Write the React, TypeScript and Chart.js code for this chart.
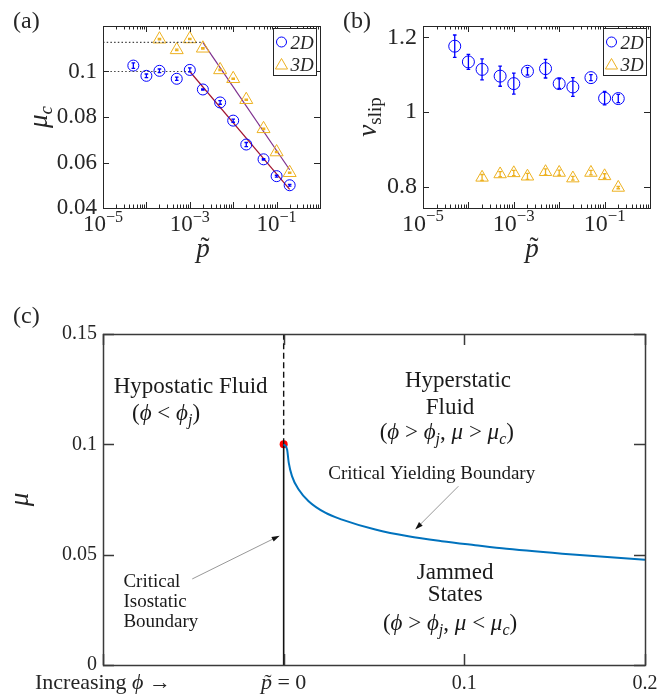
import React, { useEffect, useRef } from 'react';
import { Chart, registerables } from 'chart.js';
Chart.register(...registerables);

// ---------------- data ----------------
// panel (a) / (b): pressure values
const P_2D = [5e-5, 1e-4, 2e-4, 5e-4, 1e-3, 2e-3, 5e-3, 1e-2, 2e-2, 5e-2, 1e-1, 2e-1];
const P_3D = [2e-4, 5e-4, 1e-3, 2e-3, 5e-3, 1e-2, 2e-2, 5e-2, 1e-1, 2e-1];

// panel (a): critical friction
const MU_C_2D = [0.1026, 0.0981, 0.1003, 0.0968, 0.1007, 0.0921, 0.0864, 0.0784, 0.0679, 0.0614, 0.054, 0.05];
const MU_C_2D_ERR = [0.0012, 0.0008, 0.0008, 0.0007, 0.0009, 0.0003, 0.0008, 0.0007, 0.0009, 0.0003, 0.0004, 0.0004];
const MU_C_3D = [0.1142, 0.1095, 0.1143, 0.1102, 0.1007, 0.0968, 0.0876, 0.0748, 0.0646, 0.0555];
const MU_C_3D_ERR = [0.0003, 0.0003, 0.0003, 0.0003, 0.0003, 0.0003, 0.0003, 0.0003, 0.0003, 0.0003];
const PLATEAU_2D_P = [1e-5, 1e-3];
const PLATEAU_2D_MU = [0.1, 0.1];
const PLATEAU_3D_P = [1e-5, 2e-3];
const PLATEAU_3D_MU = [0.1128, 0.1128];
const FIT_2D_P = [1e-3, 2e-1];
const FIT_2D_MU = [0.1, 0.0482];
const FIT_3D_P = [2e-3, 2e-1];
const FIT_3D_MU = [0.1128, 0.0568];

// panel (b): slip exponent
const NU_SLIP_2D = [1.176, 1.134, 1.114, 1.096, 1.076, 1.109, 1.116, 1.076, 1.067, 1.092, 1.037, 1.036];
const NU_SLIP_2D_ERR = [0.03, 0.02, 0.028, 0.027, 0.028, 0.01, 0.025, 0.013, 0.025, 0.008, 0.018, 0.011];
const NU_SLIP_3D = [0.825, 0.834, 0.837, 0.828, 0.84, 0.838, 0.823, 0.838, 0.829, 0.798];
const NU_SLIP_3D_ERR = [0.008, 0.007, 0.007, 0.008, 0.008, 0.007, 0.005, 0.006, 0.006, 0.003];

// panel (c): critical yielding boundary
const PHASE_P = [0, 0.0019, 0.0028, 0.0046, 0.0083, 0.0138, 0.023, 0.0323, 0.0507, 0.069, 0.0875, 0.106, 0.1234, 0.16, 0.2];
const PHASE_MU = [0.1, 0.0977, 0.0917, 0.0856, 0.0795, 0.0742, 0.069, 0.0659, 0.0614, 0.0583, 0.0561, 0.0543, 0.0527, 0.0501, 0.0477];
const ISOSTATIC_P = 0;
const ISOSTATIC_MU_LOW = [0, 0.1];
const ISOSTATIC_MU_HIGH = [0.1, 0.15];

// axes / ticks
const LOG_MIN = 1e-5;
const LOG_MAX = 1;
const LOG_MAJOR = [1e-5, 1e-4, 1e-3, 1e-2, 1e-1, 1];
const LOG_MINOR_MULT = [2, 3, 4, 5, 6, 7, 8, 9];
const LOG_LABELED = [1e-5, 1e-3, 1e-1];
const Y_TICKS_A = [0.04, 0.06, 0.08, 0.1, 0.12];
const Y_LABELS_A = ['0.04', '0.06', '0.08', '0.1', ''];
const Y_TICKS_B = [0.8, 1, 1.2];
const Y_LABELS_B = ['0.8', '1', '1.2'];
const Y_TICKS_C = [0, 0.05, 0.1, 0.15];
const Y_LABELS_C = ['0', '0.05', '0.1', '0.15'];
const X_TICKS_C = [-0.1, 0, 0.1, 0.2];

// ---------------- style ----------------
const SERIF = '"Liberation Serif", "DejaVu Serif", "Times New Roman", serif';
const INK = '#262626';
const BLUE = '#0000FF';
const GOLD = '#EDB120';
const FIT_RED = '#A2142F';
const FIT_PURPLE = '#7E2F8E';
const CURVE_BLUE = '#0072BD';

type Seg = { t: string; s: string };
const R = (t: string): Seg => ({ t, s: 'r' });
const I = (t: string): Seg => ({ t, s: 'i' });
const SUB = (t: string): Seg => ({ t, s: 'sub' });
const SUBR = (t: string): Seg => ({ t, s: 'subr' });
const SUP = (t: string): Seg => ({ t, s: 'sup' });
const PT = (): Seg => ({ t: 'p', s: 'tilde' });

const X_LABELS_C: Seg[][] = [
  [R('Increasing '), I('\u03D5'), R(' \u2192')],
  [PT(), R(' = 0')],
  [R('0.1')],
  [R('0.2')],
];

// annotations of panel (c), in data coordinates
const PHASE_TEXTS: { p: number; mu: number; big: boolean; align: string; segs: Seg[] }[] = [
  { p: -0.0515, mu: 0.1232, big: true, align: 'center', segs: [R('Hypostatic Fluid')] },
  { p: -0.0651, mu: 0.111, big: true, align: 'center', segs: [R('('), I('\u03D5'), R(' < '), I('\u03D5'), SUB('j'), R(')')] },
  { p: 0.0965, mu: 0.1262, big: true, align: 'center', segs: [R('Hyperstatic')] },
  { p: 0.0921, mu: 0.1136, big: true, align: 'center', segs: [R('Fluid')] },
  { p: 0.0903, mu: 0.1023, big: true, align: 'center', segs: [R('('), I('\u03D5'), R(' > '), I('\u03D5'), SUB('j'), R(', '), I('\u03BC'), R(' > '), I('\u03BC'), SUB('c'), R(')')] },
  { p: 0.0247, mu: 0.0843, big: false, align: 'left', segs: [R('Critical Yielding Boundary')] },
  { p: 0.0949, mu: 0.039, big: true, align: 'center', segs: [R('Jammed')] },
  { p: 0.0949, mu: 0.0288, big: true, align: 'center', segs: [R('States')] },
  { p: 0.0921, mu: 0.0159, big: true, align: 'center', segs: [R('('), I('\u03D5'), R(' > '), I('\u03D5'), SUB('j'), R(', '), I('\u03BC'), R(' < '), I('\u03BC'), SUB('c'), R(')')] },
  { p: -0.0887, mu: 0.0353, big: false, align: 'left', segs: [R('Critical')] },
  { p: -0.0887, mu: 0.0262, big: false, align: 'left', segs: [R('Isostatic')] },
  { p: -0.0887, mu: 0.0171, big: false, align: 'left', segs: [R('Boundary')] },
];
const PHASE_ARROWS = [
  { from: [0.0967, 0.081], to: [0.0728, 0.0614] },
  { from: [-0.0506, 0.039], to: [-0.0022, 0.0586] },
];

// ---------------- drawing helpers ----------------
function segFont(s: string, size: number) {
  const small = s === 'sub' || s === 'subr' || s === 'sup';
  const sz = small ? size * 0.7 : size;
  const it = s === 'i' || s === 'sub' || s === 'tilde';
  return `${it ? 'italic ' : ''}${sz}px ${SERIF}`;
}
function richWidth(ctx: CanvasRenderingContext2D, segs: Seg[], size: number) {
  let w = 0;
  for (const g of segs) {
    ctx.font = segFont(g.s, size);
    w += ctx.measureText(g.t).width;
  }
  return w;
}
function drawRich(ctx: CanvasRenderingContext2D, segs: Seg[], x: number, y: number, size: number, align = 'center', color = INK) {
  ctx.save();
  const total = richWidth(ctx, segs, size);
  let cx = x - (align === 'center' ? total / 2 : align === 'right' ? total : 0);
  ctx.fillStyle = color;
  ctx.textBaseline = 'alphabetic';
  for (const g of segs) {
    ctx.font = segFont(g.s, size);
    ctx.textAlign = 'left';
    const w = ctx.measureText(g.t).width;
    let dy = 0;
    if (g.s === 'sub' || g.s === 'subr') dy = size * 0.2;
    if (g.s === 'sup') dy = -size * 0.4;
    ctx.fillText(g.t, cx, y + dy);
    if (g.s === 'tilde') {
      ctx.font = `${size}px ${SERIF}`;
      ctx.textAlign = 'center';
      ctx.fillText('\u02DC', cx + w / 2 + size * 0.07, y - size * 0.02);
    }
    cx += w;
  }
  ctx.restore();
}
function drawRotated(ctx: CanvasRenderingContext2D, segs: Seg[], x: number, y: number, size: number) {
  ctx.save();
  ctx.translate(x, y);
  ctx.rotate(-Math.PI / 2);
  drawRich(ctx, segs, 0, 0, size, 'center');
  ctx.restore();
}
function drawFrame(chart: any, xMajor: number[], xMinor: number[], yMajor: number[], major: number, minor: number, lw: number, color: string) {
  const ctx: CanvasRenderingContext2D = chart.ctx;
  const { left, right, top, bottom } = chart.chartArea;
  const xs = chart.scales.x;
  const ys = chart.scales.y;
  ctx.save();
  ctx.strokeStyle = color;
  ctx.lineWidth = lw;
  ctx.beginPath();
  const vt = (v: number, len: number) => {
    const px = Math.round(xs.getPixelForValue(v)) + 0.5;
    if (px < left - 1 || px > right + 1) return;
    ctx.moveTo(px, bottom);
    ctx.lineTo(px, bottom - len);
    ctx.moveTo(px, top);
    ctx.lineTo(px, top + len);
  };
  xMajor.forEach((v) => vt(v, major));
  xMinor.forEach((v) => vt(v, minor));
  yMajor.forEach((v) => {
    const py = Math.round(ys.getPixelForValue(v)) + 0.5;
    ctx.moveTo(left, py);
    ctx.lineTo(left + major, py);
    ctx.moveTo(right, py);
    ctx.lineTo(right - major, py);
  });
  ctx.stroke();
  ctx.strokeRect(Math.round(left) + 0.5, Math.round(top) + 0.5, Math.round(right - left), Math.round(bottom - top));
  ctx.restore();
}
function drawErrorBars(chart: any) {
  const ctx: CanvasRenderingContext2D = chart.ctx;
  const ys = chart.scales.y;
  chart.data.datasets.forEach((ds: any, i: number) => {
    if (!ds.errorBars) return;
    const meta = chart.getDatasetMeta(i);
    ctx.save();
    ctx.strokeStyle = ds.borderColor;
    ctx.lineWidth = 1.3;
    ctx.beginPath();
    meta.data.forEach((pt: any, j: number) => {
      const v = ds.data[j].y;
      const e = ds.errorBars[j];
      const y1 = ys.getPixelForValue(v + e);
      const y2 = ys.getPixelForValue(v - e);
      const x = pt.x;
      ctx.moveTo(x, y1);
      ctx.lineTo(x, y2);
      ctx.moveTo(x - 1.8, y1);
      ctx.lineTo(x + 1.8, y1);
      ctx.moveTo(x - 1.8, y2);
      ctx.lineTo(x + 1.8, y2);
    });
    ctx.stroke();
    ctx.restore();
  });
}
function drawMarker(ctx: CanvasRenderingContext2D, kind: string, x: number, y: number, r: number, color: string) {
  ctx.save();
  ctx.strokeStyle = color;
  ctx.lineWidth = 1;
  ctx.beginPath();
  if (kind === 'circle') {
    ctx.arc(x, y, r, 0, Math.PI * 2);
  } else {
    let rad = 0;
    ctx.moveTo(x + Math.sin(rad) * r, y - Math.cos(rad) * r);
    rad += (2 * Math.PI) / 3;
    ctx.lineTo(x + Math.sin(rad) * r, y - Math.cos(rad) * r);
    rad += (2 * Math.PI) / 3;
    ctx.lineTo(x + Math.sin(rad) * r, y - Math.cos(rad) * r);
    ctx.closePath();
  }
  ctx.stroke();
  ctx.restore();
}
function drawLegend(chart: any) {
  const ctx: CanvasRenderingContext2D = chart.ctx;
  const { right, top } = chart.chartArea;
  const w = 43;
  const h = 47;
  const x0 = Math.round(right - 4 - w) + 0.5;
  const y0 = Math.round(top + 2) + 0.5;
  ctx.save();
  ctx.fillStyle = '#fff';
  ctx.fillRect(x0, y0, w, h);
  ctx.strokeStyle = INK;
  ctx.lineWidth = 1;
  ctx.strokeRect(x0, y0, w, h);
  ctx.restore();
  const items = chart.data.datasets.filter((d: any) => d.legendLabel);
  items.forEach((d: any, k: number) => {
    const cy = y0 + 13.5 + k * 22.5;
    drawMarker(ctx, d.pointStyle, x0 + 8, cy + (d.pointStyle === 'triangle' ? 1 : 0), d.pointStyle === 'triangle' ? 7 : 5, d.borderColor);
    drawRich(ctx, [I(d.legendLabel)], x0 + 17, cy + 6.5, 19, 'left');
  });
}
function drawLogLabels(chart: any, size: number) {
  const ctx: CanvasRenderingContext2D = chart.ctx;
  const xs = chart.scales.x;
  const base = chart.chartArea.bottom + 23;
  LOG_LABELED.forEach((v) => {
    const e = Math.round(Math.log10(v));
    const segs = [R('10'), SUP(e < 0 ? '\u2212' + Math.abs(e) : String(e))];
    drawRich(ctx, segs, xs.getPixelForValue(v), base, size, 'center');
  });
}
function drawArrow(ctx: CanvasRenderingContext2D, x1: number, y1: number, x2: number, y2: number) {
  const ang = Math.atan2(y2 - y1, x2 - x1);
  const L = 8;
  const W = 2.6;
  ctx.save();
  ctx.strokeStyle = '#8c8c8c';
  ctx.lineWidth = 0.9;
  ctx.beginPath();
  ctx.moveTo(x1, y1);
  ctx.lineTo(x2 - Math.cos(ang) * L * 0.8, y2 - Math.sin(ang) * L * 0.8);
  ctx.stroke();
  ctx.fillStyle = '#111';
  ctx.beginPath();
  ctx.moveTo(x2, y2);
  ctx.lineTo(x2 - Math.cos(ang) * L - Math.sin(ang) * W, y2 - Math.sin(ang) * L + Math.cos(ang) * W);
  ctx.lineTo(x2 - Math.cos(ang) * L + Math.sin(ang) * W, y2 - Math.sin(ang) * L - Math.cos(ang) * W);
  ctx.closePath();
  ctx.fill();
  ctx.restore();
}

// ---------------- config builders ----------------
const LOG_MINOR = LOG_MAJOR.slice(0, -1).flatMap((d) => LOG_MINOR_MULT.map((m) => m * d));

function pts(xs: number[], ys: number[]) {
  return xs.map((x, i) => ({ x, y: ys[i] }));
}
function lineDs(xs: number[], ys: number[], color: string, dash: number[], width: number) {
  return {
    data: pts(xs, ys),
    showLine: true,
    borderColor: color,
    backgroundColor: color,
    borderWidth: width,
    borderDash: dash,
    pointRadius: 0,
    fill: false,
  };
}
function markerDs(xs: number[], ys: number[], err: number[], color: string, style: string, r: number, label: string) {
  return {
    data: pts(xs, ys),
    showLine: false,
    pointStyle: style,
    pointRadius: r,
    borderColor: color,
    backgroundColor: 'rgba(0,0,0,0)',
    pointBorderColor: color,
    pointBackgroundColor: 'rgba(0,0,0,0)',
    pointBorderWidth: 1,
    errorBars: err,
    legendLabel: label,
  };
}
function logAxis(height: number) {
  return {
    type: 'logarithmic',
    min: LOG_MIN,
    max: LOG_MAX,
    grid: { display: false, drawTicks: false },
    border: { display: false },
    ticks: { display: false, autoSkip: false },
    afterFit: (s: any) => {
      s.height = height;
    },
  };
}
function linAxis(min: number, max: number, tickVals: number[], labels: string[], width: number, size: number) {
  return {
    type: 'linear',
    min,
    max,
    grid: { display: false, drawTicks: false },
    border: { display: false },
    afterBuildTicks: (s: any) => {
      s.ticks = tickVals.map((v) => ({ value: v }));
    },
    ticks: {
      autoSkip: false,
      padding: 6,
      color: INK,
      font: { family: SERIF, size },
      callback: (_v: any, i: number) => labels[i],
    },
    afterFit: (s: any) => {
      s.width = width;
    },
  };
}
function baseOptions(padTop: number, padRight: number, scales: any) {
  return {
    animation: false,
    responsive: false,
    devicePixelRatio: 1,
    events: [],
    layout: { padding: { top: padTop, right: padRight, left: 0, bottom: 0 } },
    plugins: { legend: { display: false }, tooltip: { enabled: false }, title: { display: false } },
    scales,
  };
}

function configA(): any {
  return {
    type: 'scatter',
    data: {
      datasets: [
        lineDs(PLATEAU_2D_P, PLATEAU_2D_MU, '#444', [1.5, 2.2], 1.2),
        lineDs(PLATEAU_3D_P, PLATEAU_3D_MU, '#444', [1.5, 2.2], 1.2),
        markerDs(P_2D, MU_C_2D, MU_C_2D_ERR, BLUE, 'circle', 5.5, '2D'),
        markerDs(P_3D, MU_C_3D, MU_C_3D_ERR, GOLD, 'triangle', 7.5, '3D'),
        lineDs(FIT_2D_P, FIT_2D_MU, FIT_RED, [], 1.2),
        lineDs(FIT_3D_P, FIT_3D_MU, FIT_PURPLE, [], 1.2),
      ],
    },
    options: baseOptions(26, 16, {
      x: logAxis(82),
      y: linAxis(0.04, 0.12, Y_TICKS_A, Y_LABELS_A, 103, 23),
    }),
    plugins: [
      {
        id: 'panelA',
        afterDatasetsDraw: (chart: any) => drawErrorBars(chart),
        afterDraw: (chart: any) => {
          const ctx = chart.ctx;
          drawFrame(chart, LOG_MAJOR, LOG_MINOR, Y_TICKS_A, 6, 3.5, 1, INK);
          drawLogLabels(chart, 23);
          drawRotated(ctx, [I('\u03BC'), SUB('c')], 47, 117, 27);
          drawRich(ctx, [PT()], 203, 257, 27, 'center');
          drawLegend(chart);
          drawRich(ctx, [R('(a)')], 13, 28, 24, 'left');
        },
      },
    ],
  };
}

function configB(): any {
  return {
    type: 'scatter',
    data: {
      datasets: [
        markerDs(P_2D, NU_SLIP_2D, NU_SLIP_2D_ERR, BLUE, 'circle', 6, '2D'),
        markerDs(P_3D, NU_SLIP_3D, NU_SLIP_3D_ERR, GOLD, 'triangle', 7.2, '3D'),
      ],
    },
    options: baseOptions(26, 22, {
      x: logAxis(82),
      y: linAxis(0.7435, 1.23, Y_TICKS_B, Y_LABELS_B, 87, 24),
    }),
    plugins: [
      {
        id: 'panelB',
        afterDatasetsDraw: (chart: any) => drawErrorBars(chart),
        afterDraw: (chart: any) => {
          const ctx = chart.ctx;
          drawFrame(chart, LOG_MAJOR, LOG_MINOR, Y_TICKS_B, 6, 3.5, 1, INK);
          drawLogLabels(chart, 24);
          drawRotated(ctx, [I('\u03BD'), SUBR('slip')], 40, 117, 27);
          drawRich(ctx, [PT()], 196, 257, 27, 'center');
          drawLegend(chart);
          drawRich(ctx, [R('(b)')], 7, 28, 24, 'left');
        },
      },
    ],
  };
}

function configC(): any {
  const curve = lineDs(PHASE_P, PHASE_MU, CURVE_BLUE, [], 2);
  (curve as any).cubicInterpolationMode = 'monotone';
  const solid = lineDs([ISOSTATIC_P, ISOSTATIC_P], ISOSTATIC_MU_LOW, '#111', [], 1.6);
  const dashed = lineDs([ISOSTATIC_P, ISOSTATIC_P], ISOSTATIC_MU_HIGH, '#111', [6, 3.5], 1.4);
  const dot = {
    data: [{ x: ISOSTATIC_P, y: ISOSTATIC_MU_LOW[1] }],
    showLine: false,
    pointRadius: 4,
    pointStyle: 'circle',
    backgroundColor: '#FF0000',
    borderColor: '#FF0000',
    pointBackgroundColor: '#FF0000',
    pointBorderColor: '#FF0000',
    pointBorderWidth: 0,
  };
  return {
    type: 'scatter',
    data: { datasets: [curve, solid, dashed, dot] },
    options: {
      ...baseOptions(38, 27, {
        x: {
          type: 'linear',
          min: -0.1,
          max: 0.2,
          grid: { display: false, drawTicks: false },
          border: { display: false },
          afterBuildTicks: (s: any) => {
            s.ticks = X_TICKS_C.map((v) => ({ value: v }));
          },
          ticks: { display: false, autoSkip: false },
          afterFit: (s: any) => {
            s.height = 31;
          },
        },
        y: linAxis(0, 0.15, Y_TICKS_C, Y_LABELS_C, 103, 20),
      }),
    },
    plugins: [
      {
        id: 'panelC',
        afterDraw: (chart: any) => {
          const ctx = chart.ctx;
          const xs = chart.scales.x;
          const ys = chart.scales.y;
          drawFrame(chart, X_TICKS_C, [], Y_TICKS_C, 11, 0, 1.5, '#3a3a3a');
          X_TICKS_C.forEach((v, i) => {
            drawRich(ctx, X_LABELS_C[i], xs.getPixelForValue(v), chart.chartArea.bottom + 24, i < 2 ? 22 : 20, 'center');
          });
          PHASE_TEXTS.forEach((t) => {
            drawRich(ctx, t.segs, xs.getPixelForValue(t.p), ys.getPixelForValue(t.mu), t.big ? 23 : 19, t.align, '#1a1a1a');
          });
          PHASE_ARROWS.forEach((a) => {
            drawArrow(ctx, xs.getPixelForValue(a.from[0]), ys.getPixelForValue(a.from[1]), xs.getPixelForValue(a.to[0]), ys.getPixelForValue(a.to[1]));
          });
          drawRotated(ctx, [I('\u03BC')], 28, (chart.chartArea.top + chart.chartArea.bottom) / 2, 27);
          drawRich(ctx, [R('(c)')], 13, 27, 24, 'left');
        },
      },
    ],
  };
}

export default function App() {
  const refA = useRef<HTMLCanvasElement>(null);
  const refB = useRef<HTMLCanvasElement>(null);
  const refC = useRef<HTMLCanvasElement>(null);
  useEffect(() => {
    const charts = [
      new Chart(refA.current as HTMLCanvasElement, configA()),
      new Chart(refB.current as HTMLCanvasElement, configB()),
      new Chart(refC.current as HTMLCanvasElement, configC()),
    ];
    return () => charts.forEach((c) => c.destroy());
  }, []);
  return (
    <div style={{ position: 'absolute', left: 0, top: 0, width: 672, height: 696, background: '#fff', overflow: 'hidden' }}>
      <canvas ref={refA} width={336} height={290} style={{ position: 'absolute', left: 0, top: 0 }} />
      <canvas ref={refB} width={336} height={290} style={{ position: 'absolute', left: 336, top: 0 }} />
      <canvas ref={refC} width={672} height={400} style={{ position: 'absolute', left: 0, top: 296 }} />
    </div>
  );
}
